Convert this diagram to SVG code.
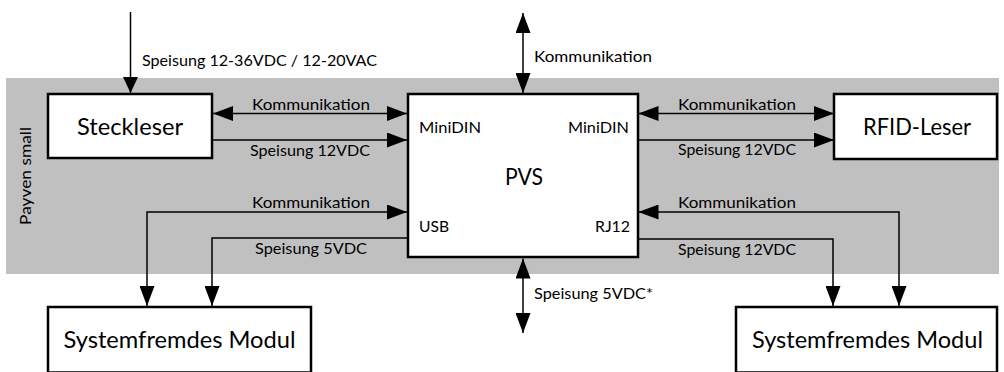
<svg xmlns="http://www.w3.org/2000/svg" width="1004" height="372" viewBox="0 0 1004 372">
<style>
.box{fill:#fff;stroke:#000;stroke-width:2.5}
.ln{fill:none;stroke:#000;stroke-width:1.5}
.lbl{font-family:Lato,"Liberation Sans",sans-serif;font-size:16px;fill:#000}
.big{font-family:Lato,"Liberation Sans",sans-serif;font-size:23.5px;fill:#000}
</style>
<defs>
<marker id="a" markerWidth="20" markerHeight="15" refX="20" refY="7.5" orient="auto-start-reverse" markerUnits="userSpaceOnUse"><path d="M0,0 L20,7.5 L0,15 z" fill="#000"/></marker>
<marker id="s" markerWidth="16" markerHeight="15" refX="16" refY="7.5" orient="auto-start-reverse" markerUnits="userSpaceOnUse"><path d="M0,0 L16,7.5 L0,15 z" fill="#000"/></marker>
</defs>
<g id="band">
<rect x="6" y="78" width="993" height="196" fill="#c0c0c0"/>
<text class="lbl" transform="translate(31,176) rotate(-90)" text-anchor="middle" font-size="17" textLength="98" lengthAdjust="spacingAndGlyphs">Payven small</text>
</g>
<g id="connectors">
<path class="ln" d="M130.5,12 V93" marker-end="url(#s)"/>
<path class="ln" d="M523,13 V93" marker-start="url(#a)" marker-end="url(#a)"/>
<path class="ln" d="M523,258.5 V333" marker-start="url(#a)" marker-end="url(#a)"/>
<path class="ln" d="M213,113.5 H407" marker-start="url(#a)" marker-end="url(#a)"/>
<path class="ln" d="M213,140 H407" marker-end="url(#a)"/>
<path class="ln" d="M638.5,113.5 H834" marker-start="url(#a)" marker-end="url(#a)"/>
<path class="ln" d="M638.5,140 H834" marker-end="url(#a)"/>
<path class="ln" d="M407,212 H147 V306" marker-start="url(#a)" marker-end="url(#a)"/>
<path class="ln" d="M407,238 H212 V306" marker-end="url(#a)"/>
<path class="ln" d="M638.5,212 H899 V306" marker-start="url(#a)" marker-end="url(#a)"/>
<path class="ln" d="M638.5,239 H833 V306" marker-end="url(#a)"/>
<text class="lbl" x="142" y="66" textLength="235" lengthAdjust="spacingAndGlyphs">Speisung 12-36VDC / 12-20VAC</text>
<text class="lbl" x="534" y="62" textLength="118" lengthAdjust="spacingAndGlyphs">Kommunikation</text>
<text class="lbl" x="534" y="299" textLength="119" lengthAdjust="spacingAndGlyphs">Speisung 5VDC*</text>
<text class="lbl" x="252" y="110" textLength="118" lengthAdjust="spacingAndGlyphs">Kommunikation</text>
<text class="lbl" x="250" y="156" textLength="120" lengthAdjust="spacingAndGlyphs">Speisung 12VDC</text>
<text class="lbl" x="678" y="110" textLength="118" lengthAdjust="spacingAndGlyphs">Kommunikation</text>
<text class="lbl" x="678" y="155" textLength="118" lengthAdjust="spacingAndGlyphs">Speisung 12VDC</text>
<text class="lbl" x="252" y="208" textLength="118" lengthAdjust="spacingAndGlyphs">Kommunikation</text>
<text class="lbl" x="255" y="254" textLength="112" lengthAdjust="spacingAndGlyphs">Speisung 5VDC</text>
<text class="lbl" x="678" y="208" textLength="118" lengthAdjust="spacingAndGlyphs">Kommunikation</text>
<text class="lbl" x="678" y="255" textLength="118" lengthAdjust="spacingAndGlyphs">Speisung 12VDC</text>
</g>
<g id="steckleser">
<rect class="box" x="48" y="94" width="164" height="64"/>
<text class="big" x="130" y="135" text-anchor="middle" textLength="106" lengthAdjust="spacingAndGlyphs">Steckleser</text>
</g>
<g id="pvs">
<rect class="box" x="408" y="94" width="230" height="163"/>
<text class="big" x="524" y="185" text-anchor="middle" textLength="38" lengthAdjust="spacingAndGlyphs">PVS</text>
<text class="lbl" x="419" y="133" textLength="62" lengthAdjust="spacingAndGlyphs">MiniDIN</text>
<text class="lbl" x="629" y="133" text-anchor="end" textLength="61" lengthAdjust="spacingAndGlyphs">MiniDIN</text>
<text class="lbl" x="419" y="232" textLength="30" lengthAdjust="spacingAndGlyphs">USB</text>
<text class="lbl" x="630" y="232" text-anchor="end" textLength="35" lengthAdjust="spacingAndGlyphs">RJ12</text>
</g>
<g id="rfid">
<rect class="box" x="834" y="94" width="163" height="65"/>
<text class="big" x="917" y="135" text-anchor="middle" textLength="108" lengthAdjust="spacingAndGlyphs">RFID-Leser</text>
</g>
<g id="modul-links">
<rect class="box" x="48" y="307" width="263" height="65.5"/>
<text class="big" x="179.5" y="348" text-anchor="middle" textLength="232" lengthAdjust="spacingAndGlyphs">Systemfremdes Modul</text>
</g>
<g id="modul-rechts">
<rect class="box" x="736" y="307" width="261" height="65.5"/>
<text class="big" x="867.5" y="348" text-anchor="middle" textLength="231" lengthAdjust="spacingAndGlyphs">Systemfremdes Modul</text>
</g>
</svg>
